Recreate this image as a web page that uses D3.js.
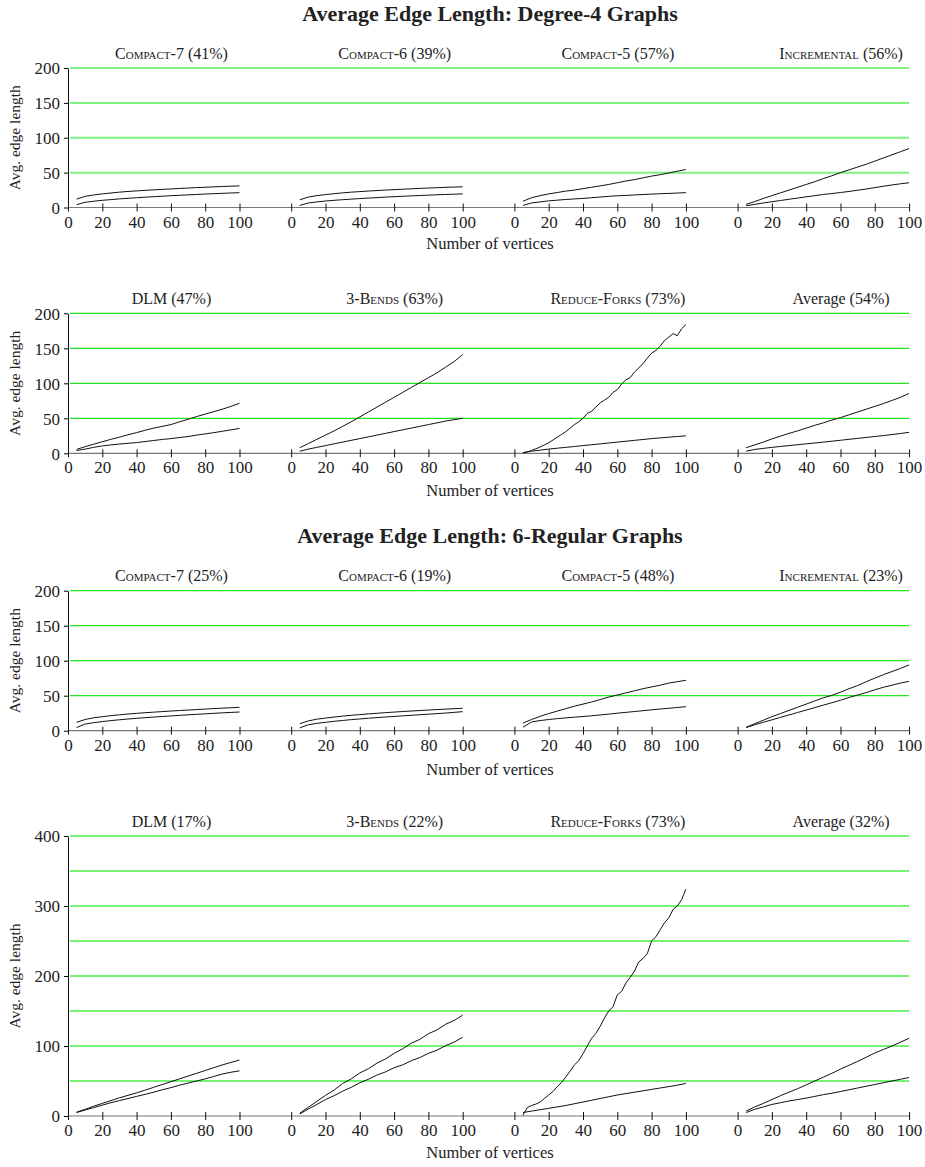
<!DOCTYPE html>
<html>
<head>
<meta charset="utf-8">
<script src="https://cdn.jsdelivr.net/npm/d3@7"></script>
<style>
  body { margin: 0; background: #fff; }
  text { font-family: "Liberation Serif", "Times New Roman", serif; fill: #222; }
</style>
</head>
<body>
<svg width="925" height="1167"></svg>
<script>
// sample positions (number of vertices)
const vertices = [5, 10, 15, 20, 25, 30, 35, 40, 45, 50, 55, 60, 65, 70, 75, 80, 85, 90, 95, 100];
const verticesFine = [5, 7.5, 10, 12.5, 15, 17.5, 20, 22.5, 25, 27.5, 30, 32.5, 35, 37.5, 40, 42.5, 45, 47.5, 50,
  52.5, 55, 57.5, 60, 62.5, 65, 67.5, 70, 72.5, 75, 77.5, 80, 82.5, 85, 87.5, 90, 92.5, 95, 97.5, 100];

const methods = ["Compact-7", "Compact-6", "Compact-5", "Incremental", "DLM", "3-Bends", "Reduce-Forks", "Average"];
const smallCaps = [true, true, true, true, false, true, true, false];
const deg4Pct = [41, 39, 57, 56, 47, 63, 73, 54];
const reg6Pct = [25, 19, 48, 23, 17, 22, 73, 32];

const xTicks = [0, 20, 40, 60, 80, 100];
const yTicks200 = [0, 50, 100, 150, 200];
const grid200 = [50, 100, 150, 200];
const yTicks400 = [0, 100, 200, 300, 400];
const grid400 = [50, 100, 150, 200, 250, 300, 350, 400];

// Degree-4 graphs: upper and lower curve per method
const deg4Hi = [
  [12, 16, 18, 19.5, 20.8, 22, 23, 23.8, 24.6, 25.3, 26, 26.6, 27.3, 27.9, 28.5, 29, 29.6, 30.1, 30.6, 31],
  [11, 15, 17, 18.5, 19.8, 21, 22, 22.8, 23.6, 24.3, 25, 25.6, 26.2, 26.8, 27.4, 27.9, 28.4, 28.9, 29.3, 29.7],
  [9, 14, 17, 19.5, 21.5, 23.5, 25, 27, 29, 31, 33, 35.5, 38, 40, 42.5, 45, 47, 49.5, 52, 54.5],
  [4.5, 8.5, 13, 17, 21, 25, 29, 33, 37, 41.5, 45.5, 50, 54, 58, 62, 66.5, 71, 75.5, 80, 84.5],
  [5.5, 9.5, 13, 16.5, 20, 23, 26.5, 29.5, 33, 36, 38.5, 41, 45, 48.5, 52.5, 56, 59.5, 63, 67, 71.5],
  [8, 14, 20, 26, 32, 38.5, 45, 52, 59, 66, 73, 80, 87, 94, 101, 108, 115, 123, 131, 141],
  [0.5, 2, 4, 6.5, 9, 12, 15, 19, 23, 27, 31, 36, 41, 45, 50, 57, 60, 66, 72, 76, 80, 87, 91, 99, 105, 108,
    116, 122, 128, 136, 143, 147, 153, 161, 166, 171, 168, 178, 184],
  [8, 12, 16, 20.5, 24.5, 28.5, 32, 36, 40, 43.5, 47.5, 51, 55, 59, 63, 67, 71, 75.5, 80, 85.5]
];
const deg4Lo = [
  [4, 7.5, 9, 10.3, 11.3, 12.3, 13.2, 14, 14.8, 15.5, 16.2, 16.9, 17.5, 18.1, 18.7, 19.3, 19.8, 20.3, 20.8, 21.3],
  [3, 6.5, 8, 9.3, 10.3, 11.2, 12, 12.8, 13.5, 14.2, 14.9, 15.5, 16.1, 16.7, 17.2, 17.7, 18.2, 18.7, 19.1, 19.5],
  [3, 6.5, 8, 9.5, 10.5, 11.5, 12.3, 13, 14, 15, 16, 16.8, 17.3, 18, 18.6, 19.2, 19.8, 20.2, 20.7, 21.3],
  [2.5, 4.5, 6.5, 8.3, 10, 11.8, 13.5, 15.3, 17, 18.7, 20, 21.5, 23, 24.8, 26.5, 28.5, 30.5, 32.3, 34, 35.5],
  [4, 6, 8.5, 10.5, 12, 13.2, 14.3, 15.3, 16.8, 18.3, 19.8, 21, 22.5, 24, 26, 27.7, 29.5, 31.5, 33.5, 35.5],
  [3, 6, 8.5, 11, 13.5, 16, 18.5, 21, 23.5, 26, 28.5, 31, 33.5, 36, 38.5, 41, 43.5, 46, 48, 50],
  [1, 3, 4.5, 6, 7.3, 8.5, 9.7, 11, 12.2, 13.5, 14.7, 16, 17.2, 18.5, 19.7, 21, 22, 23, 24, 25],
  [3, 5.5, 7, 8.5, 9.8, 11, 12.3, 13.5, 14.7, 16, 17.3, 18.6, 20, 21.3, 22.6, 24, 25.3, 26.8, 28.3, 30]
];

// 6-regular graphs
const reg6Hi = [
  [12, 16, 18.5, 20, 21.5, 22.7, 23.8, 24.8, 25.7, 26.5, 27.3, 28.1, 28.8, 29.5, 30.2, 30.9, 31.6, 32.2, 32.8, 33.4],
  [10, 14, 16.5, 18, 19.5, 20.8, 22, 23, 24, 24.9, 25.8, 26.6, 27.4, 28.1, 28.8, 29.5, 30.2, 30.8, 31.4, 32],
  [11, 16, 20.5, 24.5, 28, 31.5, 35, 38, 41, 44.5, 48, 51, 54, 57, 60, 62.5, 65, 68, 70, 72],
  [5, 10, 15, 20, 24.5, 29, 33.5, 38, 42.5, 47, 50.5, 55, 60, 64.5, 70, 75, 80, 84.5, 89, 94],
  [5.5, 9.5, 14, 18, 22, 26, 29.5, 33, 37, 41, 45, 49, 53, 57, 61, 65, 69, 73, 76.5, 80],
  [4, 12.5, 21, 29.5, 37, 46.5, 53, 61.5, 67.5, 75.5, 81.5, 89.5, 96, 104, 109.5, 117.5, 123, 131, 136.5, 144],
  [1, 12, 15, 17, 20, 25, 30, 35, 42, 48, 56, 64, 73, 79, 89, 100, 111, 118, 128, 140, 150, 156, 173, 178,
    190, 198, 207, 220, 225, 232, 250, 256, 266, 276, 283, 295, 300, 309, 324],
  [7, 13, 18, 23.5, 29, 34, 39, 44.5, 50, 55.5, 61, 67, 72.5, 78, 84, 90, 95, 100, 105.5, 111]
];
const reg6Lo = [
  [4.5, 9.5, 11.5, 13, 14.4, 15.6, 16.7, 17.7, 18.6, 19.5, 20.3, 21.1, 21.9, 22.7, 23.4, 24.1, 24.8, 25.5, 26.1, 26.7],
  [4, 8.5, 10.5, 12, 13.4, 14.6, 15.8, 16.8, 17.8, 18.7, 19.6, 20.4, 21.2, 22, 22.8, 23.6, 24.4, 25.2, 26.2, 27.2],
  [5, 12.5, 14.5, 16, 17.2, 18.3, 19.3, 20.3, 21.3, 22.5, 23.7, 25, 26.2, 27.4, 28.6, 29.8, 31, 32, 33.2, 34.3],
  [4.5, 8.5, 12, 15.5, 19, 22.5, 26, 29.5, 33, 36.5, 40, 43.5, 47.5, 51, 54.5, 58.5, 62, 65, 68, 70.5],
  [5, 8.5, 12, 15.5, 19, 22, 25, 28, 31, 34, 37.5, 40.5, 44, 47, 50, 53, 56.5, 60, 62.5, 64.5],
  [3, 10, 16.5, 23.5, 29, 35.5, 41, 47.5, 52.5, 58.5, 63, 69, 73, 79, 83.5, 89.5, 94, 100.5, 105.5, 112.5],
  [5, 7, 9, 11, 13, 15, 17.5, 20, 22.5, 25, 27.5, 30, 32, 34, 36, 38, 40, 42, 44, 46.5],
  [5, 9.5, 13, 16.5, 19, 21.5, 23.5, 25.5, 28, 30.5, 32.5, 35, 37.5, 40, 42.5, 45, 47.5, 50, 52.5, 55]
];

var svg = d3.select("svg"),
  width = +svg.attr("width"),
  height = +svg.attr("height");

svg.append("rect").attr("width", width).attr("height", height).attr("fill", "#fff");

var left = 68, right = 909, panelW = 171.5, panelStep = 223.2;
var x = d3.scaleLinear().domain([0, 100]).range([0, panelW]);

var rows = [
  { top: 68, bottom: 207.5, max: 200, ticks: yTicks200, grid: grid200, hi: deg4Hi, lo: deg4Lo, pct: deg4Pct, from: 0, gc: "#80f080", gw: 2, lab: 41.5 },
  { top: 313.3, bottom: 453.3, max: 200, ticks: yTicks200, grid: grid200, hi: deg4Hi, lo: deg4Lo, pct: deg4Pct, from: 4, gc: "#22e022", gw: 1.2, lab: 42.5 },
  { top: 590.7, bottom: 730.7, max: 200, ticks: yTicks200, grid: grid200, hi: reg6Hi, lo: reg6Lo, pct: reg6Pct, from: 0, gc: "#22e822", gw: 1.3, lab: 44 },
  { top: 836, bottom: 1116, max: 400, ticks: yTicks400, grid: grid400, hi: reg6Hi, lo: reg6Lo, pct: reg6Pct, from: 4, gc: "#44ee44", gw: 1.5, lab: 42 }
];

// big titles
svg.append("text").attr("x", 490).attr("y", 21).attr("text-anchor", "middle")
  .attr("font-weight", "bold").attr("font-size", "22px").text("Average Edge Length: Degree-4 Graphs");
svg.append("text").attr("x", 490).attr("y", 543).attr("text-anchor", "middle")
  .attr("font-weight", "bold").attr("font-size", "22px").text("Average Edge Length: 6-Regular Graphs");

rows.forEach(function (r) {
  var y = d3.scaleLinear().domain([0, r.max]).range([r.bottom, r.top]);
  var g = svg.append("g");

  g.selectAll("line.grid")
    .data(r.grid)
    .enter()
    .append("line")
    .attr("class", "grid")
    .attr("x1", left + 2).attr("x2", right)
    .attr("y1", d => y(d)).attr("y2", d => y(d))
    .attr("stroke", r.gc)
    .attr("stroke-width", r.gw);

  // gray baseline across all four panels
  g.append("line")
    .attr("x1", left).attr("x2", right)
    .attr("y1", y(0)).attr("y2", y(0))
    .attr("stroke", "#777").attr("stroke-width", 1.2);

  var ya = g.append("g")
    .attr("transform", "translate(" + left + ",0)")
    .call(d3.axisLeft(y).tickValues(r.ticks).tickSize(4).tickSizeOuter(0).tickPadding(4));
  ya.select(".domain").attr("stroke", "#111");
  ya.selectAll("text").attr("font-size", "17px").attr("dy", "0.34em");

  g.append("text")
    .attr("transform", "translate(20," + (r.top + r.bottom) / 2 + ") rotate(-90)")
    .attr("text-anchor", "middle")
    .attr("font-size", "15.5px")
    .text("Avg. edge length");

  d3.range(4).forEach(function (i) {
    var k = r.from + i;
    var pg = g.append("g").attr("transform", "translate(" + (left + i * panelStep) + ",0)");

    var xa = pg.append("g")
      .attr("transform", "translate(0," + y(0) + ")")
      .call(d3.axisBottom(x).tickValues(xTicks).tickSize(4).tickPadding(4));
    xa.select(".domain").remove();
    xa.selectAll(".tick line").attr("y1", -4).attr("stroke", "#111");
    xa.selectAll("text").attr("font-size", "17px");

    var t = pg.append("text")
      .attr("x", 103.5)
      .attr("y", r.top - 9.5)
      .attr("text-anchor", "middle")
      .attr("font-size", "16px");
    t.append("tspan")
      .style("font-variant", smallCaps[k] ? "small-caps" : "normal")
      .text(methods[k]);
    t.append("tspan").text(" (" + r.pct[k] + "%)");

    [r.hi[k], r.lo[k]].forEach(function (vals) {
      var xs = vals.length === verticesFine.length ? verticesFine : vertices;
      var line = d3.line()
        .x((d, j) => x(xs[j]))
        .y(d => y(d));
      pg.append("path")
        .datum(vals)
        .attr("fill", "none")
        .attr("stroke", "#111")
        .attr("stroke-width", 1)
        .attr("d", line);
    });
  });

  g.append("text")
    .attr("x", 490)
    .attr("y", r.bottom + r.lab)
    .attr("text-anchor", "middle")
    .attr("font-size", "16.5px")
    .text("Number of vertices");
});
</script>
</body>
</html>
